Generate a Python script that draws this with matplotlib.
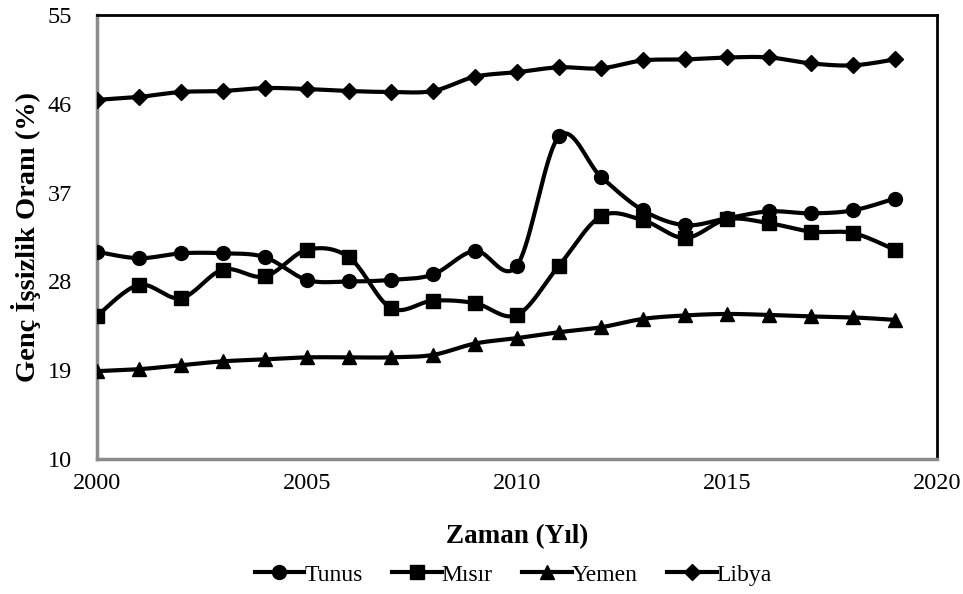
import numpy as np
import matplotlib
matplotlib.use("Agg")
import matplotlib.pyplot as plt
from matplotlib.lines import Line2D

years = list(range(2000, 2020))
tunus = [31.0, 30.35, 30.85, 30.85, 30.45, 28.15, 28.0, 28.15, 28.7, 31.1,
         29.6, 42.7, 38.6, 35.2, 33.7, 34.4, 35.1, 34.9, 35.2, 36.4]
misir = [24.5, 27.65, 26.3, 29.2, 28.5, 31.2, 30.45, 25.3, 26.05, 25.8,
         24.6, 29.6, 34.6, 34.2, 32.4, 34.3, 33.9, 33.05, 32.9, 31.2]
yemen = [18.9, 19.1, 19.5, 19.9, 20.1, 20.3, 20.3, 20.3, 20.55, 21.7,
         22.25, 22.85, 23.35, 24.2, 24.55, 24.7, 24.6, 24.45, 24.35, 24.1]
libya = [46.4, 46.7, 47.2, 47.3, 47.6, 47.5, 47.3, 47.2, 47.3, 48.75,
         49.2, 49.7, 49.6, 50.4, 50.5, 50.7, 50.7, 50.1, 49.9, 50.5]
series_names = ["Tunus", "Mısır", "Yemen", "Libya"]
markers = ["o", "s", "^", "D"]
msizes = [10, 10, 10, 8]
yticks = [10, 19, 28, 37, 46, 55]
xticks = [2000, 2005, 2010, 2015, 2020]


def smooth(x, y, n=20):
    x = np.asarray(x, float)
    y = np.asarray(y, float)
    P = np.column_stack([x, y])
    Pe = np.vstack([P[0], P, P[-1]])
    out = []
    for i in range(len(P) - 1):
        p0, p1, p2, p3 = Pe[i], Pe[i + 1], Pe[i + 2], Pe[i + 3]
        c1 = p1 + (p2 - p0) / 6.0
        c2 = p2 - (p3 - p1) / 6.0
        t = np.linspace(0, 1, n, endpoint=(i == len(P) - 2))[:, None]
        b = ((1 - t) ** 3) * p1 + 3 * ((1 - t) ** 2) * t * c1 + 3 * (1 - t) * t ** 2 * c2 + t ** 3 * p2
        out.append(b)
    B = np.vstack(out)
    return B[:, 0], B[:, 1]


plt.rcParams['font.family'] = ['Liberation Serif', 'DejaVu Serif']
fig = plt.figure(figsize=(9.63, 5.94), dpi=100)
ax = fig.add_axes([0.1007, 0.2273, 0.8723, 0.7474])

data = [tunus, misir, yemen, libya]
handles = []
for name, vals, m, ms in zip(series_names, data, markers, msizes):
    sx, sy = smooth(years, vals)
    ax.plot(sx, sy, color="black", lw=3, zorder=2)
    ax.plot(years, vals, ls="none", marker=m, ms=ms, color="black", zorder=3)
    handles.append(Line2D([], [], color="black", lw=3, marker=m, ms=ms, label=name))

ax.set_xlim(2000, 2020)
ax.set_ylim(10, 55)
ax.set_xticks(xticks)
ax.set_yticks(yticks)
ax.tick_params(length=0, labelsize=17.5, pad=10)
ax.tick_params(axis="y", pad=18)
for s in ["top", "right"]:
    ax.spines[s].set_color("black")
    ax.spines[s].set_linewidth(2)
for s in ["left", "bottom"]:
    ax.spines[s].set_color("#8c8c8c")
    ax.spines[s].set_linewidth(2.5)

ax.set_xlabel("Zaman (Yıl)", fontsize=19.5, fontweight="bold", labelpad=22)
ax.set_ylabel("Genç İşsizlik Oranı (%)", fontsize=20.5, fontweight="bold", labelpad=5)

fig.legend(handles=handles, loc="center", bbox_to_anchor=(0.533, 0.032), ncol=4,
           frameon=False, fontsize=17, handlelength=2.1, handletextpad=0.0,
           columnspacing=1.25)

fig.savefig("out.png", dpi=100)
